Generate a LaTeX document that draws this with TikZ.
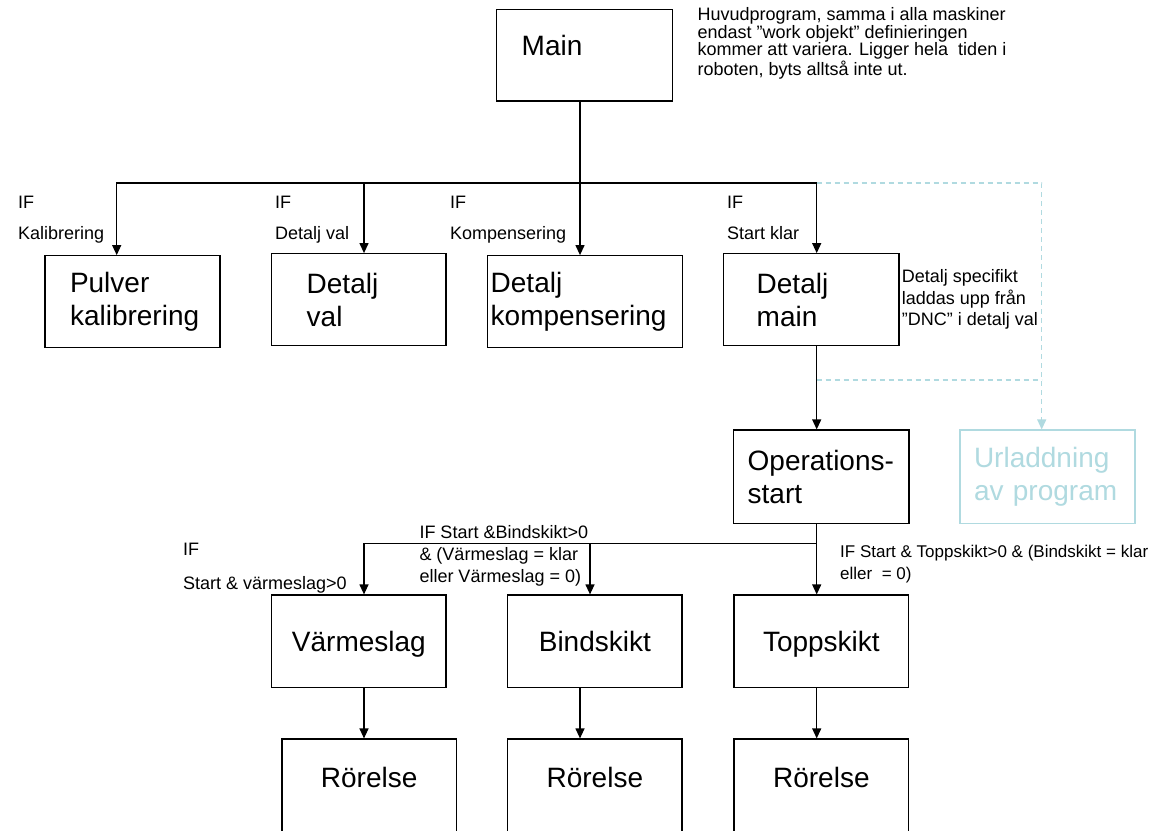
\documentclass[tikz,border=0pt]{standalone}
\usepackage{fontspec}
\setmainfont{Liberation Sans}
\usetikzlibrary{arrows.meta}
\definecolor{lightb}{RGB}{176,218,224}
\tikzset{
  box/.style={draw, line width=1.2pt, inner ysep=0pt, align=left,
    font=\fontsize{28}{33}\selectfont},
  cbox/.style={draw, line width=1.2pt, inner sep=0pt,
    font=\fontsize{28}{33}\selectfont},
  lbl/.style={anchor=base west, inner sep=0pt, align=left,
    font=\fontsize{18}{21.6}\selectfont},
  lblif/.style={anchor=base west, inner sep=0pt, align=left,
    font=\fontsize{18}{31}\selectfont},
  ln/.style={line width=1.2pt},
  arr/.style={line width=1.2pt, -{Triangle[length=10pt,width=9pt]}},
  dsh/.style={line width=1.2pt, draw=lightb, dash pattern=on 5pt off 4pt},
  dsharr/.style={dsh, -{Triangle[length=10pt,width=9pt,fill=lightb]}},
}
\begin{document}
\begin{tikzpicture}[x=1pt, y=-1pt]
\useasboundingbox (0,0) rectangle (1174,830);
\fill[white] (0,0) rectangle (1174,830);
\clip (0,0) rectangle (1174,830);

% boxes
\node[box, text width=125.6pt, inner xsep=25pt, minimum height=91.7pt,
  text height=20pt, text depth=20pt] (main) at (584.5,55.15) {Main};
\node[box, text width=125pt, inner xsep=25pt, minimum height=92pt] (pulver) at (132.5,301.7) {Pulver\\kalibrering};
\node[box, text width=104.3pt, inner xsep=35pt, minimum height=92pt] (dval) at (358.85,299.7) {Detalj\\val};
\node[box, text width=188.2pt, inner xsep=3.4pt, minimum height=92pt] (dkomp) at (584.8,301.7) {Detalj\\kompensering};
\node[box, text width=108.9pt, inner xsep=33.4pt, minimum height=92pt] (dmain) at (811.15,299.7) {Detalj\\main};
\node[box, text width=147pt, inner xsep=14.35pt, minimum height=93.3pt] (opstart) at (821.15,476.65) {Operations-\\start};
\node[box, draw=lightb, text=lightb, text width=147pt, inner xsep=14pt, minimum height=93.3pt] (urladd) at (1047.5,476.65) {Urladdning\\av program};

\node[cbox, minimum width=174.3pt, minimum height=92.3pt, text height=20pt, text depth=0pt] (varme) at (358.85,641.15) {Värmeslag};
\node[cbox, minimum width=174.3pt, minimum height=92.3pt, text height=20pt, text depth=0pt] (binds) at (594.85,641.15) {Bindskikt};
\node[cbox, minimum width=174.7pt, minimum height=92.3pt, text height=20pt, text depth=0pt] (topp) at (821.35,641.15) {Toppskikt};

\node[cbox, minimum width=174.3pt, minimum height=100pt, text height=20pt, text depth=24pt] (r1) at (369.2,789) {Rörelse};
\node[cbox, minimum width=174.3pt, minimum height=100pt, text height=20pt, text depth=24pt] (r2) at (594.85,789) {Rörelse};
\node[cbox, minimum width=174.7pt, minimum height=100pt, text height=20pt, text depth=24pt] (r3) at (821.35,789) {Rörelse};

% labels (anchor = baseline of the last line)
\node[lbl, font=\fontsize{18}{17.5}\selectfont] (note) at (697.3,75) {Huvudprogram, samma i alla maskiner\\endast ”work objekt” definieringen\\kommer att variera. Ligger hela\ \ tiden i\\roboten, byts alltså inte ut.};
\node[lblif] (l1) at (18,239.3) {IF\\Kalibrering};
\node[lblif] (l2) at (275,239.3) {IF\\Detalj val};
\node[lblif] (l3) at (450,239.3) {IF\\Kompensering};
\node[lblif] (l4) at (727,239.3) {IF\\Start klar};
\node[lbl] (spec) at (901.7,325.7) {Detalj specifikt\\laddas upp från\\”DNC” i detalj val};
\node[lbl, font=\fontsize{18}{34}\selectfont] (l5) at (183,589) {IF\\Start \& värmeslag>0};
\node[lbl, font=\fontsize{18}{22}\selectfont] (l6) at (419.3,582) {IF Start \&Bindskikt>0\\\& (Värmeslag = klar\\eller Värmeslag = 0)};
\node[lbl, font=\fontsize{17}{22.5}\selectfont] (l7) at (840,579.5) {IF Start \& Toppskikt>0 \& (Bindskikt = klar\\eller\ \ = 0)};

% coordinates
\coordinate (j1) at (580,183);
\coordinate (b1) at (116.7,183);
\coordinate (b2) at (364,183);
\coordinate (b4) at (816.7,183);
\coordinate (d1) at (1041.7,183);
\coordinate (d2) at (816.7,380);
\coordinate (j2) at (816.7,543.3);
\coordinate (c1) at (364,543.3);
\coordinate (c2) at (590,543.3);
\coordinate (e2) at (580,543.3);

% light dashed connectors (drawn first)
\draw[dsharr] (b4) -- (d1) -- (urladd.north -| d1);
\draw[dsh] (d2) -- (d2 -| d1);

% main connectors
\draw[ln] (main.south -| j1) -- (j1);
\draw[arr] (j1) -| (pulver.north -| b1);
\draw[arr] (b2) -- (dval.north -| b2);
\draw[arr] (j1) -- (dkomp.north -| j1);
\draw[arr] (j1) -| (dmain.north -| b4);
\draw[arr] (dmain.south -| b4) -- (opstart.north -| b4);

\draw[ln] (opstart.south -| j2) -- (j2);
\draw[arr] (j2) -- (topp.north -| j2);
\draw[arr] (j2) -| (varme.north -| c1);
\draw[arr] (c2) -- (binds.north -| c2);

\draw[arr] (varme.south -| c1) -- (r1.north -| c1);
\draw[arr] (binds.south -| e2) -- (r2.north -| e2);
\draw[arr] (topp.south -| j2) -- (r3.north -| j2);
\end{tikzpicture}
\end{document}
